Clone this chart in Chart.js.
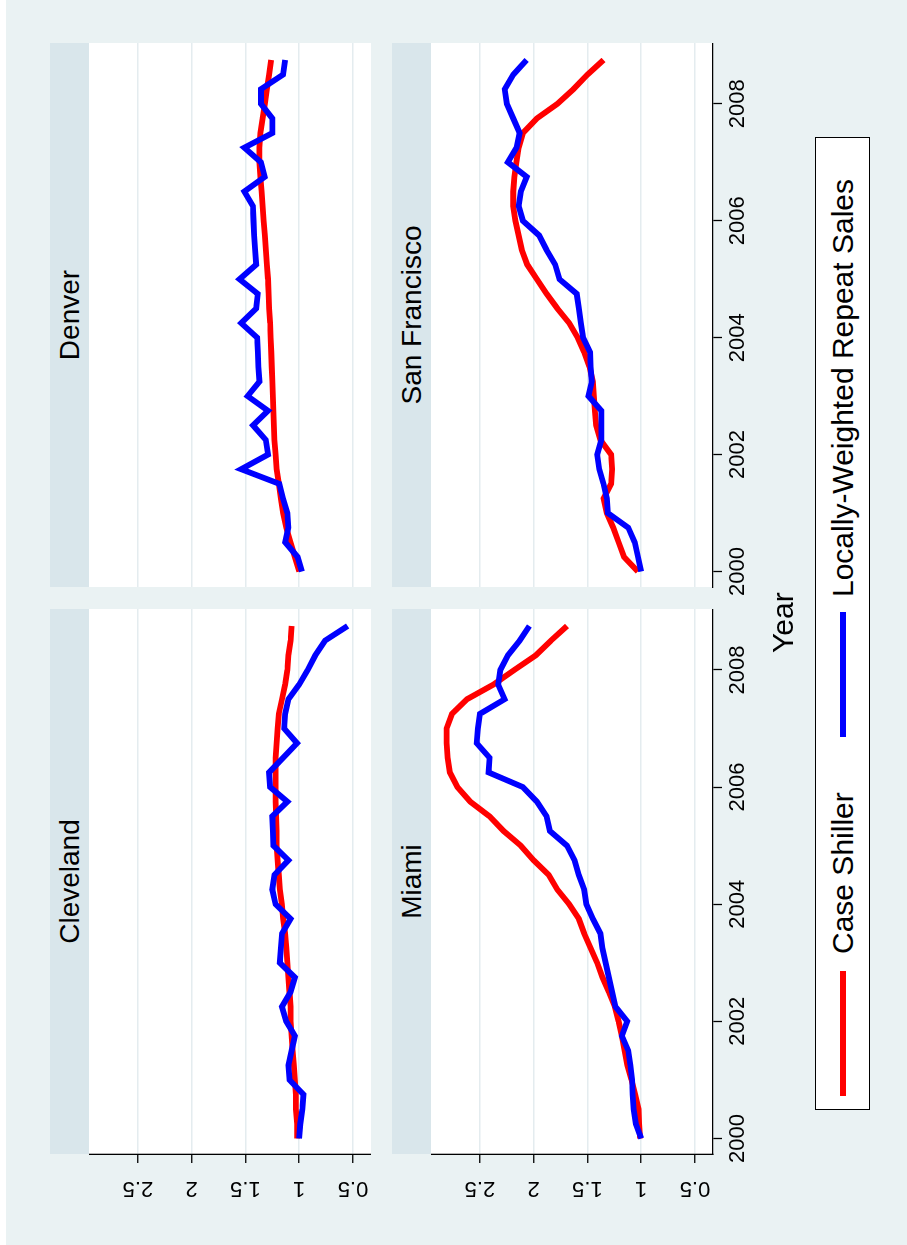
<!DOCTYPE html>
<html><head><meta charset="utf-8">
<script src="https://cdn.jsdelivr.net/npm/chart.js@4.4.1/dist/chart.umd.min.js"></script>
<style>
html,body{margin:0;padding:0;background:#fff;overflow:hidden;width:907px;height:1245px;}
#stage{position:absolute;left:0;top:0;width:1245px;height:907px;transform-origin:0 0;transform:translate(0px,1245px) rotate(-90deg);background:#EAF2F3;font-family:"Liberation Sans",Arial,sans-serif;color:#000;overflow:hidden;}
#whiteedge{position:absolute;left:0;top:0;width:1245px;height:6px;background:#fff;}
.strip{position:absolute;background:#D9E6EB;font-size:28px;line-height:39px;height:39px;text-align:center;white-space:nowrap;}
canvas.pc{position:absolute;}
#ytitle{position:absolute;font-size:30px;white-space:nowrap;}
#legend{position:absolute;left:135px;top:815px;width:971px;height:53px;background:#fff;border:1px solid #000;}
.key{position:absolute;height:6px;top:24px;}
.ltxt{position:absolute;font-size:30px;top:9px;white-space:nowrap;line-height:36px;}
</style></head>
<body>
<div id="stage">
  <div id="whiteedge"></div>
  <div class="strip" style="left:91px;top:50px;width:545px;">Cleveland</div>
  <div class="strip" style="left:658px;top:50px;width:544px;">Denver</div>
  <div class="strip" style="left:91px;top:392px;width:545px;">Miami</div>
  <div class="strip" style="left:658px;top:392px;width:544px;">San Francisco</div>
  <canvas class="pc" id="cCle" width="636" height="282" style="left:0px;top:89px;"></canvas>
  <canvas class="pc" id="cMia" width="636" height="342" style="left:0px;top:431px;"></canvas>
  <canvas class="pc" id="cDen" width="582" height="282" style="left:620px;top:89px;"></canvas>
  <canvas class="pc" id="cSF" width="582" height="342" style="left:620px;top:431px;"></canvas>
  <div id="ytitle" style="left:592px;top:766px;">Year</div>
  <div id="legend">
    <div class="key" style="left:13px;width:125px;background:#f00;"></div>
    <div class="ltxt" style="left:155px;">Case Shiller</div>
    <div class="key" style="left:372px;width:125px;background:#00f;"></div>
    <div class="ltxt" style="left:512px;">Locally-Weighted Repeat Sales</div>
  </div>
</div>
<script>
// ---- data (quarterly) ----
const years = [2000,2000.25,2000.5,2000.75,2001,2001.25,2001.5,2001.75,2002,2002.25,2002.5,2002.75,
  2003,2003.25,2003.5,2003.75,2004,2004.25,2004.5,2004.75,2005,2005.25,2005.5,2005.75,
  2006,2006.25,2006.5,2006.75,2007,2007.25,2007.5,2007.75,2008,2008.25,2008.5,2008.75];
const xTicks = [2000, 2002, 2004, 2006, 2008];
const yTicks = [0.5, 1, 1.5, 2, 2.5];
const seriesNames = ["Case Shiller", "Locally-Weighted Repeat Sales"];

const clevelandCS = [1.02,1.02,1.03,1.03,1.04,1.05,1.06,1.07,1.08,1.08,1.09,1.10,
  1.11,1.12,1.13,1.15,1.16,1.18,1.19,1.20,1.21,1.21,1.215,1.22,
  1.22,1.22,1.22,1.21,1.20,1.19,1.16,1.13,1.11,1.10,1.08,1.07];
const clevelandLW = [1.00,0.99,0.97,0.96,1.09,1.10,1.07,1.04,1.12,1.16,1.08,1.04,
  1.18,1.17,1.16,1.08,1.22,1.25,1.23,1.10,1.24,1.245,1.25,1.11,
  1.27,1.28,1.15,1.02,1.14,1.13,1.10,1.00,0.92,0.85,0.76,0.55];
const denverCS = [1.00,1.04,1.08,1.12,1.15,1.17,1.19,1.21,1.22,1.23,1.235,1.24,
  1.245,1.25,1.255,1.26,1.265,1.27,1.28,1.285,1.29,1.30,1.31,1.32,
  1.33,1.34,1.35,1.36,1.37,1.37,1.36,1.34,1.32,1.30,1.28,1.26];
const denverLW = [0.975,1.015,1.13,1.10,1.11,1.15,1.185,1.54,1.29,1.31,1.43,1.29,
  1.48,1.37,1.38,1.385,1.39,1.54,1.40,1.385,1.555,1.40,1.41,1.42,
  1.425,1.43,1.51,1.32,1.355,1.51,1.25,1.25,1.355,1.355,1.15,1.13];
const miamiCS = [1.01,1.02,1.025,1.055,1.09,1.13,1.155,1.18,1.21,1.245,1.30,1.36,
  1.41,1.47,1.53,1.58,1.67,1.78,1.86,2.00,2.12,2.28,2.41,2.59,
  2.71,2.78,2.80,2.81,2.81,2.76,2.62,2.375,2.18,1.98,1.84,1.69];
const miamiLW = [1.00,1.05,1.07,1.08,1.085,1.10,1.12,1.18,1.13,1.24,1.27,1.30,
  1.33,1.36,1.38,1.45,1.51,1.53,1.58,1.62,1.69,1.85,1.88,1.97,
  2.10,2.42,2.41,2.53,2.52,2.50,2.27,2.33,2.31,2.24,2.13,2.04];
const sfCS = [1.03,1.16,1.21,1.26,1.32,1.35,1.28,1.27,1.28,1.38,1.42,1.43,
  1.44,1.45,1.48,1.53,1.59,1.67,1.78,1.88,1.97,2.06,2.11,2.14,
  2.17,2.19,2.19,2.18,2.16,2.14,2.10,1.97,1.78,1.63,1.50,1.35];
const sfLW = [1.00,1.03,1.06,1.12,1.31,1.32,1.35,1.39,1.41,1.37,1.37,1.37,
  1.49,1.46,1.47,1.475,1.54,1.56,1.58,1.60,1.76,1.80,1.88,1.95,
  2.10,2.14,2.12,2.065,2.24,2.16,2.13,2.19,2.25,2.27,2.19,2.065];

// ---- scale ranges ----
const X_MIN = 1999.735, X_MAX = 2009.04;
const Y_MIN = 0.332, Y_MAX = 2.955;
const FONT = '"Liberation Sans", Arial, sans-serif';

const bgPlugin = {
  id: 'plotbg',
  beforeDraw(c) {
    const a = c.chartArea, ctx = c.ctx;
    ctx.save(); ctx.fillStyle = '#ffffff';
    ctx.fillRect(a.left, a.top, a.right - a.left, a.bottom - a.top);
    ctx.restore();
  }
};

function pts(vals) { return years.map((x, i) => ({ x: x, y: vals[i] })); }
function noPad(s) { s.paddingTop = 0; s.paddingBottom = 0; s.paddingLeft = 0; s.paddingRight = 0; }

function panel(id, cs, lw, showY, showX) {
  new Chart(document.getElementById(id), {
    type: 'line',
    data: {
      datasets: [
        { label: seriesNames[0], data: pts(cs), borderColor: '#ff0000', borderWidth: 5.8, pointRadius: 0, tension: 0, fill: false, order: 1 },
        { label: seriesNames[1], data: pts(lw), borderColor: '#0000ff', borderWidth: 5.8, pointRadius: 0, tension: 0, fill: false, order: 0 }
      ]
    },
    options: {
      responsive: false, animation: false, events: [],
      layout: { padding: 0 },
      plugins: { legend: { display: false }, tooltip: { enabled: false } },
      scales: {
        x: {
          type: 'linear', min: X_MIN, max: X_MAX, display: showX,
          afterBuildTicks: s => { s.ticks = xTicks.map(v => ({ value: v })); },
          afterFit: s => { s.height = showX ? 60 : 0; noPad(s); },
          grid: { drawOnChartArea: false, drawTicks: true, tickLength: 9, tickColor: '#000', tickWidth: 1.3 },
          border: { display: true, color: '#000', width: 1.3 },
          ticks: { color: '#000', font: { family: FONT, size: 22 }, padding: 3, maxRotation: 0, minRotation: 0, callback: v => String(v) }
        },
        y: {
          type: 'linear', min: Y_MIN, max: Y_MAX,
          afterBuildTicks: s => { s.ticks = yTicks.map(v => ({ value: v })); },
          afterFit: s => { s.width = showY ? 91 : 38; noPad(s); },
          grid: { color: '#E4ECEF', lineWidth: 1.5, drawTicks: showY, tickLength: 9, tickColor: '#000', tickWidth: 1.3 },
          border: { display: showY, color: '#000', width: 1.3 },
          ticks: { display: showY, color: '#000', font: { family: FONT, size: 22 }, minRotation: 90, maxRotation: 90, crossAlign: 'center', padding: 10, callback: v => String(v) }
        }
      }
    },
    plugins: [bgPlugin]
  });
}

panel('cCle', clevelandCS, clevelandLW, true, false);
panel('cMia', miamiCS, miamiLW, true, true);
panel('cDen', denverCS, denverLW, false, false);
panel('cSF', sfCS, sfLW, false, true);
</script>
</body></html>
